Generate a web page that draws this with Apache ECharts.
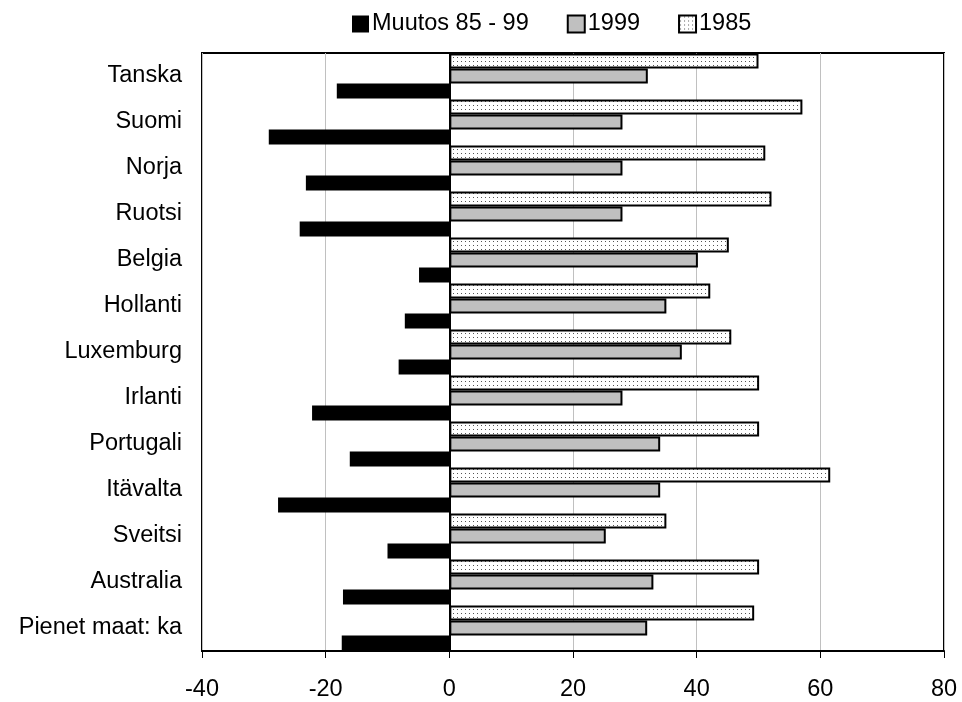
<!DOCTYPE html>
<html>
<head>
<meta charset="utf-8">
<script src="https://cdn.jsdelivr.net/npm/echarts@6/dist/echarts.min.js"></script>
<style>
html,body{margin:0;padding:0;background:#fff;}
#chart{width:962px;height:702px;}
</style>
</head>
<body>
<div id="chart"></div>
<script>
var categories = ["Tanska","Suomi","Norja","Ruotsi","Belgia","Hollanti","Luxemburg","Irlanti","Portugali","Itävalta","Sveitsi","Australia","Pienet maat: ka"];
var values1985 = [50.0, 57.1, 51.1, 52.1, 45.2, 42.2, 45.6, 50.1, 50.1, 61.6, 35.1, 50.1, 49.3];
var values1999 = [32.1, 28.0, 28.0, 28.0, 40.2, 35.1, 37.6, 28.0, 34.1, 34.1, 25.3, 33.0, 32.0];
var valuesChange = [-18.2, -29.2, -23.2, -24.2, -4.9, -7.2, -8.2, -22.2, -16.1, -27.7, -10.0, -17.2, -17.4];
var xTicks = [-40, -20, 0, 20, 40, 60, 80];
var seriesNames = ["Muutos 85 - 99", "1999", "1985"];

var FONT = "'Liberation Sans', Arial, sans-serif";
var FS = 23.5;

var pc = document.createElement('canvas');
pc.width = 4; pc.height = 4;
var ctx = pc.getContext('2d');
ctx.fillStyle = '#ffffff';
ctx.fillRect(0, 0, 4, 4);
ctx.fillStyle = '#555555';
ctx.fillRect(1, 1, 1, 1);

var chart = echarts.init(document.getElementById('chart'), null, {renderer: 'canvas'});
chart.setOption({
  animation: false,
  backgroundColor: '#ffffff',
  legend: {
    data: seriesNames,
    top: 7,
    left: 347,
    itemWidth: 17,
    itemHeight: 17,
    itemGap: 38,
    icon: 'rect',
    textStyle: {fontFamily: FONT, fontSize: FS, color: '#000', padding: [0, 0, 0, -2]}
  },
  grid: {
    left: 202, right: 18, top: 53, bottom: 51,
    show: true, borderColor: '#000', borderWidth: 2, backgroundColor: '#fff'
  },
  xAxis: {
    type: 'value',
    min: xTicks[0], max: xTicks[xTicks.length - 1], interval: 20,
    axisLine: {show: true, lineStyle: {color: '#000', width: 2}},
    axisTick: {show: true, length: 7, lineStyle: {color: '#000', width: 1}},
    axisLabel: {fontFamily: FONT, fontSize: FS, color: '#000', margin: 27},
    splitLine: {show: true, lineStyle: {color: '#c0c0c0', width: 1}}
  },
  yAxis: {
    type: 'category',
    data: categories,
    inverse: true,
    axisLine: {show: false, onZero: false},
    axisTick: {show: false},
    axisLabel: {fontFamily: FONT, fontSize: FS, color: '#000', margin: 20, padding: [0, 0, 4, 0]},
    splitLine: {show: false}
  },
  series: [
    {
      name: seriesNames[2], type: 'bar', data: values1985,
      barWidth: 15, barGap: '0%',
      itemStyle: {color: {image: pc, repeat: 'repeat'}, borderColor: '#000', borderWidth: 2},
      markLine: {
        silent: true, symbol: 'none', label: {show: false},
        lineStyle: {color: '#000', width: 2, type: 'solid'},
        data: [{xAxis: 0}]
      }
    },
    {
      name: seriesNames[1], type: 'bar', data: values1999,
      barWidth: 15, barGap: '0%',
      itemStyle: {color: '#c0c0c0', borderColor: '#000', borderWidth: 2}
    },
    {
      name: seriesNames[0], type: 'bar', data: valuesChange,
      barWidth: 15, barGap: '0%',
      itemStyle: {color: '#000', borderColor: '#000', borderWidth: 0}
    }
  ]
});
</script>
</body>
</html>
